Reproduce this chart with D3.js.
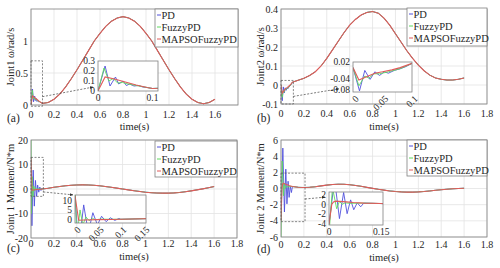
<!DOCTYPE html>
<html>
<head>
<meta charset="utf-8">
<script src="https://cdn.jsdelivr.net/npm/d3@7"></script>
<style>
body { margin: 0; background: #fff; }
svg text { font-family: "Liberation Serif", "Times New Roman", Times, serif; fill: #262626; }
</style>
</head>
<body>
<div id="chart"></div>
<script>
var seriesNames = ["PD", "FuzzyPD", "MAPSOFuzzyPD"];
var seriesColors = ["#5050dc", "#5fda5f", "#e05a5a"];

// part after the start transient, same time base for every joint
var tailTime = [0.1, 0.15, 0.2, 0.25, 0.3, 0.35, 0.4, 0.45, 0.5, 0.55, 0.6, 0.65, 0.7, 0.75, 0.8,
    0.85, 0.9, 0.95, 1.0, 1.05, 1.1, 1.15, 1.2, 1.25, 1.3, 1.35, 1.4, 1.45, 1.5, 1.55, 1.6];

// (a) joint1 angular velocity
var w1Tail = [0.025, 0.04, 0.09, 0.17, 0.28, 0.41, 0.55, 0.70, 0.85, 1.00, 1.12, 1.23, 1.31, 1.36, 1.38,
    1.36, 1.31, 1.23, 1.12, 1.00, 0.85, 0.70, 0.55, 0.41, 0.28, 0.17, 0.09, 0.04, 0.02, 0.04, 0.09];
var w1PdT = [0, 0.013, 0.022, 0.032, 0.038, 0.046, 0.052, 0.058, 0.066, 0.074, 0.082, 0.09];
var w1PdV = [0, 0.25, 0.05, 0.14, 0.07, 0.10, 0.055, 0.07, 0.05, 0.055, 0.04, 0.035];
var w1FuzzyT = [0, 0.011, 0.02, 0.028, 0.036, 0.045, 0.055, 0.07, 0.085];
var w1FuzzyV = [0, 0.23, 0.10, 0.125, 0.08, 0.085, 0.07, 0.055, 0.04];
var w1MapsoT = [0, 0.013, 0.03, 0.05, 0.07, 0.09];
var w1MapsoV = [0, 0.14, 0.12, 0.09, 0.06, 0.035];

// (b) joint2 angular velocity
var w2Tail = [0.015, 0.025, 0.035, 0.05, 0.07, 0.10, 0.14, 0.185, 0.23, 0.275, 0.315, 0.345, 0.368, 0.382, 0.387,
    0.378, 0.352, 0.315, 0.27, 0.225, 0.18, 0.14, 0.105, 0.075, 0.052, 0.037, 0.03, 0.026, 0.026, 0.03, 0.037];
var w2PdT = [0, 0.011, 0.02, 0.029, 0.037, 0.045, 0.053, 0.06, 0.07, 0.08, 0.09];
var w2PdV = [0, -0.083, -0.01, -0.042, -0.015, -0.028, -0.015, -0.02, -0.01, -0.004, 0.004];
var w2FuzzyT = [0, 0.01, 0.02, 0.027, 0.035, 0.045, 0.06, 0.08];
var w2FuzzyV = [0, -0.065, -0.03, -0.038, -0.022, -0.022, -0.015, -0.004];
var w2MapsoT = [0, 0.01, 0.02, 0.037, 0.05, 0.066, 0.08];
var w2MapsoV = [0, -0.044, -0.035, -0.02, -0.015, -0.008, 0];

// (c) joint1 moment
var m1Tail = [0, 0.3, 0.7, 1.0, 1.3, 1.5, 1.65, 1.7, 1.65, 1.5, 1.3, 1.0, 0.7, 0.35, 0,
    -0.35, -0.7, -1.0, -1.3, -1.5, -1.65, -1.7, -1.7, -1.6, -1.4, -1.1, -0.75, -0.35, 0.05, 0.5, 1.0];
var m1PdT = [0, 0.008, 0.019, 0.029, 0.039, 0.049, 0.058, 0.068, 0.077, 0.087, 0.096];
var m1PdV = [12.5, -15, 7.7, -7, 3.5, -3, 1.6, -1.3, 0.8, -0.6, 0.4];
var m1FuzzyT = [0, 0.004, 0.011, 0.017, 0.024, 0.031, 0.038, 0.045, 0.055, 0.07];
var m1FuzzyV = [20, -10, 5, -3, 1.2, -0.8, 0.5, -0.3, 0.1, 0];
var m1MapsoT = [0, 0.008, 0.02, 0.05, 0.08];
var m1MapsoV = [12.5, -0.5, -0.4, -0.2, -0.1];

// (d) joint2 moment
var m2Tail = [0.25, 0.15, 0.12, 0.15, 0.22, 0.32, 0.42, 0.49, 0.53, 0.52, 0.47, 0.38, 0.27, 0.14, 0.02,
    -0.1, -0.2, -0.3, -0.37, -0.42, -0.45, -0.45, -0.42, -0.37, -0.3, -0.22, -0.15, -0.09, -0.04, 0, 0.03];
var m2PdT = [0, 0.016, 0.03, 0.042, 0.052, 0.062, 0.071, 0.081, 0.091];
var m2PdV = [-4, 5, -2.9, 2.4, -1.9, 0.9, -1.1, 0.3, -0.5];
var m2FuzzyT = [0, 0.01, 0.022, 0.03, 0.038, 0.046, 0.06];
var m2FuzzyV = [-6, 3.4, -0.9, 0.6, 0, 0.3, 0.2];
var m2MapsoT = [0, 0.008, 0.013, 0.02, 0.03, 0.05, 0.07];
var m2MapsoV = [-4, 0, 0.5, 0.65, 0.6, 0.5, 0.38];

// tick labels
var mainTimeTicks = [0, 0.2, 0.4, 0.6, 0.8, 1, 1.2, 1.4, 1.6, 1.8];
var w1Ticks = [0, 0.5, 1];
var w2Ticks = [-0.1, 0, 0.1, 0.2, 0.3, 0.4];
var m1Ticks = [-20, -10, 0, 10, 20];
var m2Ticks = [-6, -4, -2, 0, 2, 4, 6];
var w1ZoomTimeTicks = [0, 0.1], w1ZoomTicks = [0, 0.1, 0.2, 0.3];
var w2ZoomTimeTicks = [0, 0.05, 0.1], w2ZoomTicks = [0.02, -0.04, -0.08];
var m1ZoomTimeTicks = [0, 0.05, 0.1, 0.15], m1ZoomTicks = [0, 5, 10];
var m2ZoomTimeTicks = [0, 0.15], m2ZoomTicks = [-4, -2, 0, 2];

var width = 500, height = 268;
var svg = d3.select("#chart").append("svg")
    .attr("width", width)
    .attr("height", height)
    .attr("font-family", "'Liberation Serif', 'Times New Roman', serif");

var defs = svg.append("defs");
defs.append("marker")
    .attr("id", "arrowHead")
    .attr("viewBox", "0 0 10 10")
    .attr("refX", 9).attr("refY", 5)
    .attr("markerWidth", 5).attr("markerHeight", 5)
    .attr("orient", "auto")
    .append("path")
    .attr("d", "M0,1L10,5L0,9z")
    .attr("fill", "#333");

function join(tt, vv, tail) {
    var pts = tt.map(function(t, i) { return [t, vv[i]]; });
    return pts.concat(tailTime.map(function(t, i) { return [t, tail[i]]; }));
}

function fmt(d) { return String(+d.toFixed(3)); }

var clipCount = 0;

// draws one set of axes (main or zoom window), returns scales
function drawAxes(box, xDom, yDom, xTicks, yTicks, lines, opt) {
    var x = d3.scaleLinear().domain(xDom).range([box.x0, box.x1]);
    var y = d3.scaleLinear().domain(yDom).range([box.y1, box.y0]);
    var g = svg.append("g");

    g.append("rect")
        .attr("x", box.x0).attr("y", box.y0)
        .attr("width", box.x1 - box.x0).attr("height", box.y1 - box.y0)
        .attr("fill", "#fff");

    if (opt.grid) {
        g.selectAll(".gx").data(xTicks).enter().append("line")
            .attr("x1", x).attr("x2", x)
            .attr("y1", box.y0).attr("y2", box.y1)
            .attr("stroke", "#e3e3e3").attr("stroke-width", 0.8);
        g.selectAll(".gy").data(yTicks).enter().append("line")
            .attr("x1", box.x0).attr("x2", box.x1)
            .attr("y1", y).attr("y2", y)
            .attr("stroke", "#e3e3e3").attr("stroke-width", 0.8);
    }

    var id = "clip" + (clipCount++);
    defs.append("clipPath").attr("id", id).append("rect")
        .attr("x", box.x0).attr("y", box.y0)
        .attr("width", box.x1 - box.x0).attr("height", box.y1 - box.y0);

    var line = d3.line().x(function(d) { return x(d[0]); }).y(function(d) { return y(d[1]); });
    g.append("g").attr("clip-path", "url(#" + id + ")")
        .selectAll("path").data(lines).enter().append("path")
        .attr("d", line)
        .attr("fill", "none")
        .attr("stroke", function(d, i) { return seriesColors[i]; })
        .attr("stroke-width", function(d, i) { return i == 2 ? 1.1 : 0.9; });

    g.append("rect")
        .attr("x", box.x0).attr("y", box.y0)
        .attr("width", box.x1 - box.x0).attr("height", box.y1 - box.y0)
        .attr("fill", "none").attr("stroke", "#808080").attr("stroke-width", 0.8);

    var fs = opt.fontSize || 10;
    if (opt.rotate) {
        g.selectAll(".tx").data(xTicks).enter().append("text")
            .attr("text-anchor", "end")
            .attr("font-size", fs)
            .attr("transform", function(d) { return "translate(" + (x(d) + 4) + "," + (box.y1 + 5) + ") rotate(-45)"; })
            .attr("dy", "0.35em")
            .text(fmt);
    } else {
        g.selectAll(".tx").data(xTicks).enter().append("text")
            .attr("x", x).attr("y", box.y1 + opt.xLabelGap)
            .attr("text-anchor", "middle")
            .attr("font-size", fs)
            .text(fmt);
    }
    g.selectAll(".ty").data(yTicks).enter().append("text")
        .attr("x", box.x0 - 3).attr("y", y)
        .attr("dy", "0.35em")
        .attr("text-anchor", "end")
        .attr("font-size", fs)
        .text(fmt);

    return { x: x, y: y };
}

var panels = [
    { tag: "(a)", ylabel: "Joint1 \u03c9/rad/s",
      main: { x0: 31, x1: 238, y0: 9, y1: 105 }, xMax: 1.8, yDom: [0, 1.5], yTicks: w1Ticks,
      xTicks: mainTimeTicks.slice(0, 9), gap: 13, labelY: 130,
      lines: [join(w1PdT, w1PdV, w1Tail), join(w1FuzzyT, w1FuzzyV, w1Tail), join(w1MapsoT, w1MapsoV, w1Tail)],
      zoom: { x0: 98, x1: 158, y0: 61, y1: 91 }, zx: [0, 0.11], zy: [0, 0.3],
      zxt: w1ZoomTimeTicks, zyt: w1ZoomTicks, rot: false,
      win: [0, 0.1, -0.02, 0.69], arrow: [0.1, 0.13, 0.54, 0.28],
      legend: { x: 155, y: 9, w: 83, h: 38 } },
    { tag: "(b)", ylabel: "Joint2 \u03c9/rad/s",
      main: { x0: 281, x1: 487, y0: 9, y1: 104 }, xMax: 1.8, yDom: [-0.1, 0.4], yTicks: w2Ticks,
      xTicks: mainTimeTicks, gap: 13, labelY: 130,
      lines: [join(w2PdT, w2PdV, w2Tail), join(w2FuzzyT, w2FuzzyV, w2Tail), join(w2MapsoT, w2MapsoV, w2Tail)],
      zoom: { x0: 353, x1: 412, y0: 62, y1: 92 }, zx: [0, 0.1], zy: [-0.087, 0.02],
      zxt: w2ZoomTimeTicks, zyt: w2ZoomTicks, rot: true,
      win: [0, 0.108, -0.1, 0.024], arrow: [0.108, -0.06, 0.507, -0.02],
      legend: { x: 407, y: 8, w: 80, h: 38 } },
    { tag: "(c)", ylabel: "Joint 1 Moment/N*m",
      main: { x0: 31, x1: 237, y0: 140, y1: 238 }, xMax: 1.8, yDom: [-20, 20], yTicks: m1Ticks,
      xTicks: mainTimeTicks, gap: 9, labelY: 260,
      lines: [join(m1PdT, m1PdV, m1Tail), join(m1FuzzyT, m1FuzzyV, m1Tail), join(m1MapsoT, m1MapsoV, m1Tail)],
      zoom: { x0: 75, x1: 146, y0: 195, y1: 223 }, zx: [0, 0.155], zy: [-2, 13],
      zxt: m1ZoomTimeTicks, zyt: m1ZoomTicks, rot: true,
      win: [0, 0.108, -3, 12.9], arrow: [0.108, -1.2, 0.367, -2.4],
      legend: { x: 155, y: 141, w: 82, h: 36 } },
    { tag: "(d)", ylabel: "Joint 2 Moment/N*m",
      main: { x0: 281, x1: 487, y0: 140, y1: 237 }, xMax: 1.8, yDom: [-6, 6], yTicks: m2Ticks,
      xTicks: mainTimeTicks, gap: 11, labelY: 261,
      lines: [join(m2PdT, m2PdV, m2Tail), join(m2FuzzyT, m2FuzzyV, m2Tail), join(m2MapsoT, m2MapsoV, m2Tail)],
      zoom: { x0: 329, x1: 383, y0: 192, y1: 225 }, zx: [0, 0.155], zy: [-4.2, 2.5],
      zxt: m2ZoomTimeTicks, zyt: m2ZoomTicks, rot: false,
      win: [0, 0.21, -4.1, 1.9], arrow: [0.21, -1.3, 0.385, -1.07],
      legend: { x: 407, y: 140, w: 80, h: 36 } }
];

panels.forEach(function(p) {
    var m = p.main;
    var s = drawAxes(m, [0, p.xMax], p.yDom, p.xTicks, p.yTicks, p.lines, { grid: true, xLabelGap: p.gap });

    // zoom window marker on the main axes
    svg.append("rect")
        .attr("x", s.x(p.win[0])).attr("y", s.y(p.win[3]))
        .attr("width", s.x(p.win[1]) - s.x(p.win[0]))
        .attr("height", s.y(p.win[2]) - s.y(p.win[3]))
        .attr("fill", "none").attr("stroke", "#555")
        .attr("stroke-width", 0.7).attr("stroke-dasharray", "2,1.5");
    svg.append("line")
        .attr("x1", s.x(p.arrow[0])).attr("y1", s.y(p.arrow[1]))
        .attr("x2", s.x(p.arrow[2])).attr("y2", s.y(p.arrow[3]))
        .attr("stroke", "#444").attr("stroke-width", 0.7)
        .attr("stroke-dasharray", "2,1.5")
        .attr("marker-end", "url(#arrowHead)");

    // legend
    var L = p.legend;
    var lg = svg.append("g");
    lg.append("rect").attr("x", L.x).attr("y", L.y).attr("width", L.w).attr("height", L.h)
        .attr("fill", "#fff").attr("stroke", "#808080").attr("stroke-width", 0.8);
    seriesNames.forEach(function(name, i) {
        var yy = L.y + 6 + i * 12;
        lg.append("line").attr("x1", L.x + 2).attr("x2", L.x + 6)
            .attr("y1", yy).attr("y2", yy)
            .attr("stroke", seriesColors[i]).attr("stroke-width", 1);
        lg.append("text").attr("x", L.x + 6.5).attr("y", yy).attr("dy", "0.35em")
            .attr("font-size", 10.5).text(name);
    });

    // zoomed view
    drawAxes(p.zoom, p.zx, p.zy, p.zxt, p.zyt, p.lines, { grid: false, rotate: p.rot, xLabelGap: 10, fontSize: 9.5 });

    svg.append("text")
        .attr("x", (m.x0 + m.x1) / 2).attr("y", p.labelY)
        .attr("text-anchor", "middle").attr("font-size", 10.5)
        .text("time(s)");
    svg.append("text")
        .attr("transform", "translate(" + (m.x0 - 17) + "," + ((m.y0 + m.y1) / 2) + ") rotate(-90)")
        .attr("text-anchor", "middle").attr("font-size", 10.5)
        .text(p.ylabel);
    svg.append("text")
        .attr("x", m.x0 - 24).attr("y", p.labelY - 8)
        .attr("font-size", 11.5)
        .text(p.tag);
});
</script>
</body>
</html>
